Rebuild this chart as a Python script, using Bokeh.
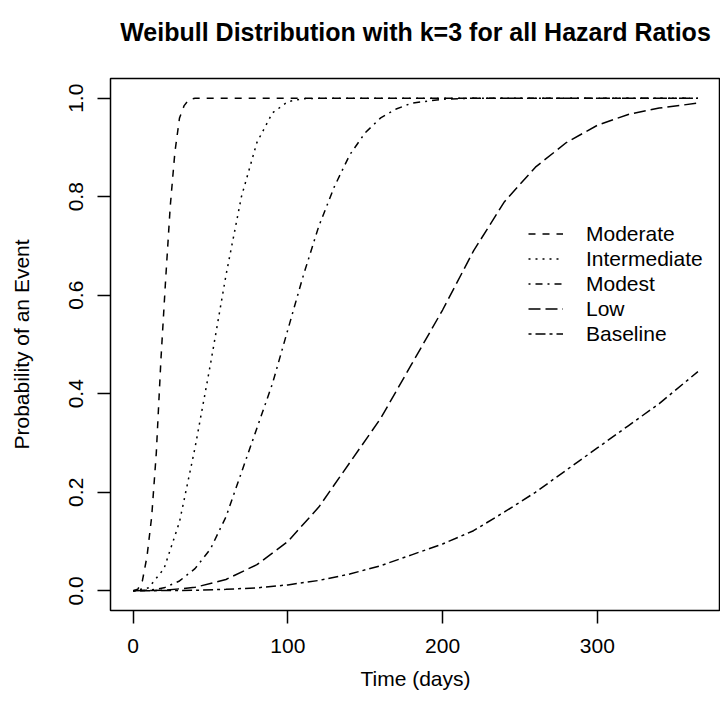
from bokeh.plotting import figure
from bokeh.models import Range1d, FixedTicker, Legend, LegendItem, LinearAxis
from bokeh.embed import file_html
from bokeh.resources import INLINE

# Cumulative probability of an event over time (Weibull, k = 3), one curve per hazard ratio
series_names = ["Moderate", "Intermediate", "Modest", "Low", "Baseline"]

moderate_t = [0, 3, 6, 9, 12, 15, 18, 21, 24, 27, 30, 33, 36, 40, 365]
moderate_p = [0.0, 0.003, 0.02, 0.07, 0.15, 0.28, 0.47, 0.63, 0.78, 0.89, 0.96, 0.985, 0.997, 1.0, 1.0]

intermediate_t = [0, 10, 20, 30, 40, 50, 60, 70, 80, 90, 100, 110, 120, 365]
intermediate_p = [0.0, 0.006, 0.045, 0.14, 0.29, 0.46, 0.64, 0.80, 0.91, 0.97, 0.993, 0.999, 1.0, 1.0]

modest_t = [0, 10, 20, 30, 40, 50, 60, 70, 80, 90, 100, 110, 120, 130, 140, 150, 160, 170, 180, 200, 220, 365]
modest_p = [0.0, 0.001, 0.006, 0.02, 0.045, 0.085, 0.15, 0.24, 0.33, 0.42, 0.53, 0.64, 0.74, 0.82, 0.885, 0.93,
            0.96, 0.978, 0.99, 0.998, 1.0, 1.0]

low_t = [0, 20, 40, 60, 80, 100, 120, 140, 160, 180, 200, 220, 240, 260, 280, 300, 320, 340, 365]
low_p = [0.0, 0.001, 0.007, 0.023, 0.053, 0.10, 0.17, 0.26, 0.35, 0.46, 0.57, 0.69, 0.79, 0.86, 0.91, 0.945,
         0.967, 0.98, 0.99]

baseline_t = [0, 40, 60, 80, 100, 120, 140, 160, 180, 200, 220, 240, 260, 280, 300, 320, 340, 365]
baseline_p = [0.0, 0.001, 0.003, 0.006, 0.012, 0.021, 0.034, 0.051, 0.073, 0.095, 0.122, 0.16, 0.20, 0.245,
              0.29, 0.335, 0.38, 0.445]

x_ticks = [0, 100, 200, 300]
y_ticks = [0.0, 0.2, 0.4, 0.6, 0.8, 1.0]
y_tick_labels = ["0.0", "0.2", "0.4", "0.6", "0.8", "1.0"]

TITLE = "Weibull Distribution with k=3 for all Hazard Ratios"
FONT = "Liberation Sans"
BASE = "21px"

p = figure(width=720, height=715, output_backend="svg", toolbar_location=None, title=None,
           x_range=Range1d(-14.6, 379.6), y_range=Range1d(-0.04, 1.04),
           min_border_left=110, min_border_right=0, min_border_top=78, min_border_bottom=105,
           background_fill_color="white", border_fill_color="white")

p.outline_line_color = "black"
p.outline_line_width = 1.5
p.grid.visible = False

for ax in (p.xaxis[0], p.yaxis[0]):
    ax.axis_line_color = None
    ax.major_tick_line_color = "black"
    ax.major_tick_line_width = 1.5
    ax.major_tick_in = 0
    ax.major_tick_out = 13
    ax.minor_tick_line_color = None
    ax.major_label_text_font = FONT
    ax.major_label_text_font_size = BASE
    ax.major_label_text_color = "black"
    ax.axis_label_text_font = FONT
    ax.axis_label_text_font_size = BASE
    ax.axis_label_text_font_style = "normal"
    ax.axis_label_text_color = "black"

p.xaxis[0].ticker = FixedTicker(ticks=x_ticks)
p.xaxis[0].major_label_standoff = 15
p.xaxis[0].axis_label = "Time (days)"
p.xaxis[0].axis_label_standoff = 11

p.yaxis[0].ticker = FixedTicker(ticks=y_ticks)
p.yaxis[0].major_label_overrides = {t: s for t, s in zip(y_ticks, y_tick_labels)}
p.yaxis[0].major_label_orientation = "vertical"
p.yaxis[0].major_label_standoff = 14
p.yaxis[0].axis_label = "Probability of an Event"
p.yaxis[0].axis_label_standoff = 34

# Bold heading carried by a bare axis along the top of the frame
heading = LinearAxis(ticker=FixedTicker(ticks=[]), axis_label=TITLE,
                     axis_line_color=None, major_tick_line_color=None, minor_tick_line_color=None,
                     major_tick_out=0, major_tick_in=0, major_label_standoff=0,
                     axis_label_standoff=33, axis_label_text_font=FONT,
                     axis_label_text_font_size="25px", axis_label_text_font_style="bold",
                     axis_label_text_color="black")
p.add_layout(heading, "above")

curves = [
    (moderate_t, moderate_p, "7 7"),
    (intermediate_t, intermediate_p, "2 5"),
    (modest_t, modest_p, "2 5 7 5"),
    (low_t, low_p, "12 5"),
    (baseline_t, baseline_p, "3 4 10 4"),
]

items = []
for name, (t, prob, dash) in zip(series_names, curves):
    r = p.line(t, prob, line_color="black", line_width=1.5, line_dash=dash)
    items.append(LegendItem(label=name, renderers=[r]))

legend = Legend(items=items, location=(418, 264), border_line_color=None,
                background_fill_alpha=0, padding=0, margin=0, spacing=0,
                glyph_width=35, glyph_height=25, label_height=25, label_standoff=23,
                label_text_font=FONT, label_text_font_size=BASE, label_text_color="black")
p.add_layout(legend, "center")

open("out.html", "w").write(file_html(p, INLINE))
